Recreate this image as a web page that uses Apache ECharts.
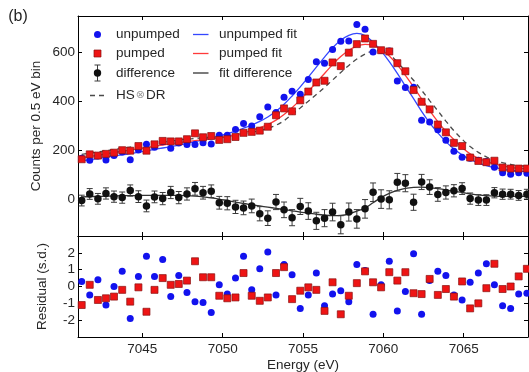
<!DOCTYPE html>
<html>
<head>
<meta charset="utf-8">
<script src="https://cdn.jsdelivr.net/npm/echarts@6/dist/echarts.min.js"></script>
<style>
  html, body { margin: 0; padding: 0; background: #fff; }
  #chart { width: 529px; height: 372px; }
</style>
</head>
<body>
<div id="chart"></div>
<script>
// Photon energy of each 0.5 eV bin (eV)
const energy = [
  7041.23, 7041.73, 7042.24, 7042.74, 7043.24, 7043.75, 7044.25, 7044.76,
  7045.26, 7045.76, 7046.27, 7046.77, 7047.27, 7047.78, 7048.28, 7048.78,
  7049.29, 7049.79, 7050.29, 7050.80, 7051.30, 7051.81, 7052.31, 7052.81,
  7053.32, 7053.82, 7054.32, 7054.83, 7055.33, 7055.83, 7056.34, 7056.84,
  7057.35, 7057.85, 7058.35, 7058.86, 7059.36, 7059.86, 7060.37, 7060.87,
  7061.37, 7061.88, 7062.38, 7062.88, 7063.39, 7063.89, 7064.39, 7064.90,
  7065.40, 7065.91, 7066.41, 7066.91, 7067.42, 7067.92, 7068.42, 7068.93
];

// Counts per bin
const unpumped = [
  168, 160, 177, 161, 179, 194, 162, 202, 225, 213, 236, 209, 230, 224, 224, 231,
  226, 262, 262, 286, 310, 300, 338, 378, 355, 418, 442, 430, 490, 563, 557, 613,
  647, 648, 715, 696, 603, 609, 607, 484, 458, 459, 324, 316, 285, 242, 197, 172,
  168, 160, 155, 131, 109, 103, 109, 107
];
const pumped = [
  164, 184, 179, 186, 191, 201, 199, 218, 199, 225, 239, 237, 237, 246, 270, 254,
  259, 243, 246, 255, 272, 276, 281, 297, 344, 372, 360, 405, 441, 478, 485, 560,
  545, 600, 635, 658, 636, 610, 605, 557, 524, 447, 399, 368, 306, 274, 231, 218,
  171, 157, 152, 158, 130, 126, 126, 126
];
const difference = [
  -5, 22, 2, 24, 11, 7, 36, 11, -27, 10, 3, 28, 7, 22, 43, 27,
  33, -14, -16, -31, -35, -27, -59, -77, -11, -43, -75, -29, -48, -88, -77, -52,
  -104, -52, -80, -39, 29, 1, -2, 70, 66, -12, 71, 50, 20, 28, 35, 44,
  3, -3, -3, 27, 21, 21, 16, 21
];
const differenceErr = [
  22, 22, 22, 23, 23, 23, 23, 24, 24, 24, 25, 25, 25, 25, 26, 26,
  26, 26, 27, 27, 28, 28, 29, 30, 31, 32, 33, 33, 34, 35, 35, 36,
  37, 37, 38, 38, 38, 38, 37, 36, 35, 33, 31, 30, 28, 27, 25, 24,
  23, 22, 22, 21, 21, 20, 20, 20
];

// Model curves evaluated at the bin energies
const unpumpedFit = [
  157, 162, 167, 172, 177, 182, 187, 192, 198, 204, 210, 216, 222, 229, 236, 243,
  251, 260, 269, 279, 291, 304, 319, 337, 360, 389, 423, 460, 500, 541, 582, 620,
  651, 671, 679, 670, 643, 607, 563, 515, 463, 412, 360, 313, 272, 236, 206, 182,
  163, 149, 138, 130, 124, 119, 115, 112
];
const pumpedFit = [
  170, 175, 181, 186, 191, 197, 202, 207, 212, 217, 222, 227, 232, 236, 240, 244,
  248, 252, 257, 263, 272, 282, 293, 306, 324, 347, 375, 407, 442, 478, 515, 551,
  584, 610, 627, 634, 630, 613, 586, 550, 507, 460, 411, 363, 318, 278, 244, 212,
  186, 168, 155, 145, 137, 131, 127, 124
];
const hsDrModel = [
  184, 189, 194, 199, 204, 209, 214, 219, 224, 229, 234, 238, 242, 246, 249, 252,
  255, 258, 261, 265, 269, 274, 281, 290, 303, 322, 348, 374, 401, 429, 458, 488,
  519, 548, 574, 594, 607, 610, 594, 561, 525, 487, 446, 404, 362, 320, 281, 246,
  216, 192, 174, 160, 150, 143, 138, 135
];
const fitDifference = [
  10, 11, 12, 13, 14, 15, 15, 16, 16, 16, 16, 16, 16, 15, 13, 10,
  6, 1, -5, -11, -17, -22, -27, -32, -37, -42, -47, -52, -56, -61, -65, -67,
  -66, -60, -48, -36, -14, 7, 24, 37, 45, 49, 50, 48, 44, 39, 33, 28,
  22, 18, 15, 13, 12, 12, 12, 12
];

// Normalised residuals (standard deviations)
const unpumpedResidual = [
  0.3, -0.5, 0.4, -1.1, 0.0, 0.9, -1.9, 0.6, 1.8, 0.6, 1.6, -0.6, 0.65, -0.35, -0.9, -0.95,
  -1.55, 0.1, -0.45, 0.5, 1.8, -0.2, 1.05, 2.05, -0.5, 1.3, 0.7, -1.3, -0.5, 0.8, -1.15, -0.45,
  -0.25, -0.9, 1.3, 0.95, -1.65, 0.1, 1.5, -1.45, -0.3, 1.95, -1.65, 0.35, 0.9, 0.65, -0.5, -0.8,
  0.25, 0.8, 1.35, 0.1, -1.15, -1.3, -0.45, -0.4
];
const pumpedResidual = [
  -1.1, 0.1, -0.8, -0.7, -0.6, -0.2, -0.9, -0.05, -1.5, -0.2, 0.5, 0.1, 0.15, 0.35, 1.5, 0.55,
  0.55, -0.55, -0.7, -0.65, 0.8, -0.55, -0.85, -0.65, 0.8, 1.15, -0.75, -0.25, -0.05, -0.2, -1.45, 0.25,
  -1.65, -0.55, 0.2, 0.9, 0.25, -0.05, 0.85, 0.35, 0.85, -0.4, -0.45, 0.45, -0.5, -0.15, -0.6, 0.3,
  -1.3, -1.0, -0.1, 1.35, -0.15, 0.0, 0.6, 1.05
];

const energyTicks = [7045, 7050, 7055, 7060, 7065];
const countTicks = [0, 200, 400, 600];
const residualTicks = [-2, -1, 0, 1, 2];

const FONT = '"Liberation Sans", Arial, "DejaVu Sans", sans-serif';
const TEXT = '#262626';
const BLUE = '#1212ee';
const RED = '#ee1414';
const BLUE_LINE = '#3447ff';
const RED_LINE = '#ff3a3a';

const pairs = ys => energy.map((e, i) => [e, ys[i]]);

function frameAxis(kind, grid, position, range, ticks, labelled) {
  const ax = {
    type: 'value',
    gridIndex: grid,
    position: position,
    min: range[0],
    max: range[1],
    axisLine: { show: true, onZero: false, lineStyle: { color: '#000', width: 1 } },
    axisTick: { show: true, inside: true, length: 4, customValues: ticks, lineStyle: { color: '#000', width: 1 } },
    axisLabel: {
      show: !!labelled,
      fontFamily: FONT,
      fontSize: 13.5,
      color: TEXT,
      margin: kind === 'x' ? 5 : 3,
      formatter: v => String(v)
    },
    splitLine: { show: false }
  };
  if (labelled) ax.axisLabel.customValues = ticks;
  return ax;
}

const chart = echarts.init(document.getElementById('chart'), null, { renderer: 'canvas' });

const lineSeries = (name, data, color, dashed) => ({
  name: name,
  type: 'line',
  xAxisIndex: 0,
  yAxisIndex: 0,
  data: pairs(data),
  showSymbol: false,
  smooth: 0.35,
  lineStyle: { color: color, width: 1.3, type: dashed ? [5, 4] : 'solid' },
  z: 2
});

chart.setOption({
  animation: false,
  backgroundColor: '#fff',
  grid: [
    { left: 78, top: 16, width: 450, height: 220 },
    { left: 78, top: 236, width: 450, height: 101 }
  ],
  xAxis: [
    frameAxis('x', 0, 'bottom', [7041, 7069], energyTicks, false),
    frameAxis('x', 0, 'top', [7041, 7069], energyTicks, false),
    frameAxis('x', 1, 'bottom', [7041, 7069], energyTicks, true),
    frameAxis('x', 1, 'top', [7041, 7069], energyTicks, false)
  ],
  yAxis: [
    frameAxis('y', 0, 'left', [-150, 750], countTicks, true),
    frameAxis('y', 0, 'right', [-150, 750], countTicks, false),
    frameAxis('y', 1, 'left', [-3, 3], residualTicks, true),
    frameAxis('y', 1, 'right', [-3, 3], residualTicks, false)
  ],
  series: [
    lineSeries('HS⊗DR', hsDrModel, '#4a4a4a', true),
    lineSeries('unpumped fit', unpumpedFit, BLUE_LINE, false),
    lineSeries('pumped fit', pumpedFit, RED_LINE, false),
    lineSeries('fit difference', fitDifference, '#333333', false),
    {
      name: 'difference error',
      type: 'custom',
      xAxisIndex: 0,
      yAxisIndex: 0,
      data: energy.map((e, i) => [e, difference[i], differenceErr[i]]),
      encode: { x: 0, y: 1 },
      z: 3,
      renderItem: (params, api) => {
        const x = api.value(0), y = api.value(1), err = api.value(2);
        const hi = api.coord([x, y + err]);
        const lo = api.coord([x, y - err]);
        const cap = 3;
        const st = { stroke: '#3a3a3a', lineWidth: 1 };
        return {
          type: 'group',
          children: [
            { type: 'line', shape: { x1: hi[0], y1: hi[1], x2: lo[0], y2: lo[1] }, style: st },
            { type: 'line', shape: { x1: hi[0] - cap, y1: hi[1], x2: hi[0] + cap, y2: hi[1] }, style: st },
            { type: 'line', shape: { x1: lo[0] - cap, y1: lo[1], x2: lo[0] + cap, y2: lo[1] }, style: st }
          ]
        };
      }
    },
    {
      name: 'difference',
      type: 'scatter',
      xAxisIndex: 0, yAxisIndex: 0,
      data: pairs(difference),
      symbol: 'circle', symbolSize: 7.5,
      itemStyle: { color: '#111', opacity: 1 },
      z: 4
    },
    {
      name: 'unpumped',
      type: 'scatter',
      xAxisIndex: 0, yAxisIndex: 0,
      data: pairs(unpumped),
      symbol: 'circle', symbolSize: 7,
      itemStyle: { color: BLUE, opacity: 1 },
      z: 4
    },
    {
      name: 'pumped',
      type: 'scatter',
      xAxisIndex: 0, yAxisIndex: 0,
      data: pairs(pumped),
      symbol: 'rect', symbolSize: 7,
      itemStyle: { color: RED, borderColor: '#8a1010', borderWidth: 0.7, opacity: 1 },
      z: 5
    },
    {
      name: 'unpumped residual',
      type: 'scatter',
      xAxisIndex: 2, yAxisIndex: 2,
      data: pairs(unpumpedResidual),
      symbol: 'circle', symbolSize: 7,
      itemStyle: { color: BLUE, opacity: 1 },
      z: 4
    },
    {
      name: 'pumped residual',
      type: 'scatter',
      xAxisIndex: 2, yAxisIndex: 2,
      data: pairs(pumpedResidual),
      symbol: 'rect', symbolSize: 7,
      itemStyle: { color: RED, borderColor: '#8a1010', borderWidth: 0.7, opacity: 1 },
      z: 5
    }
  ],
  graphic: [
    // panel tag
    { type: 'text', x: 18, y: 17, style: { text: '(b)', font: '16px ' + FONT, fill: TEXT, align: 'center', verticalAlign: 'middle' } },
    // axis titles
    { type: 'text', x: 36, y: 126, rotation: Math.PI / 2,
      style: { text: 'Counts per 0.5 eV bin', font: '13.5px ' + FONT, fill: TEXT, align: 'center', verticalAlign: 'middle' } },
    { type: 'text', x: 42, y: 286.5, rotation: Math.PI / 2,
      style: { text: 'Residual (s.d.)', font: '13.5px ' + FONT, fill: TEXT, align: 'center', verticalAlign: 'middle' } },
    { type: 'text', x: 303, y: 365,
      style: { text: 'Energy (eV)', font: '13.5px ' + FONT, fill: TEXT, align: 'center', verticalAlign: 'middle' } },

    // legend, first column
    { type: 'circle', shape: { cx: 97.5, cy: 34.5, r: 3.5 }, style: { fill: BLUE } },
    { type: 'text', x: 116, y: 34.5, style: { text: 'unpumped', font: '13.5px ' + FONT, fill: TEXT, verticalAlign: 'middle' } },
    { type: 'rect', shape: { x: 94, y: 50, width: 7, height: 7 }, style: { fill: RED, stroke: '#8a1010', lineWidth: 0.7 } },
    { type: 'text', x: 116, y: 53.5, style: { text: 'pumped', font: '13.5px ' + FONT, fill: TEXT, verticalAlign: 'middle' } },
    { type: 'line', shape: { x1: 97.5, y1: 65, x2: 97.5, y2: 81 }, style: { stroke: '#3a3a3a', lineWidth: 1 } },
    { type: 'line', shape: { x1: 94.5, y1: 65, x2: 100.5, y2: 65 }, style: { stroke: '#3a3a3a', lineWidth: 1 } },
    { type: 'line', shape: { x1: 94.5, y1: 81, x2: 100.5, y2: 81 }, style: { stroke: '#3a3a3a', lineWidth: 1 } },
    { type: 'circle', shape: { cx: 97.5, cy: 73, r: 3.7 }, style: { fill: '#111' } },
    { type: 'text', x: 116, y: 73, style: { text: 'difference', font: '13.5px ' + FONT, fill: TEXT, verticalAlign: 'middle' } },
    { type: 'line', shape: { x1: 90, y1: 95.5, x2: 106, y2: 95.5 }, style: { stroke: '#4a4a4a', lineWidth: 1.3, lineDash: [5, 4] } },
    { type: 'text', x: 116, y: 95.5,
      style: {
        text: '{a|HS}{b|⊗}{a|DR}',
        verticalAlign: 'middle',
        rich: {
          a: { fontFamily: FONT, fontSize: 13.5, fill: TEXT },
          b: { fontFamily: '"DejaVu Sans", sans-serif', fontSize: 11, fill: '#9a9a9a', padding: [0, 1, 0, 1] }
        }
      } },

    // legend, second column
    { type: 'line', shape: { x1: 193, y1: 34.5, x2: 208.5, y2: 34.5 }, style: { stroke: BLUE_LINE, lineWidth: 1.3 } },
    { type: 'text', x: 219, y: 34.5, style: { text: 'unpumped fit', font: '13.5px ' + FONT, fill: TEXT, verticalAlign: 'middle' } },
    { type: 'line', shape: { x1: 193, y1: 53.5, x2: 208.5, y2: 53.5 }, style: { stroke: RED_LINE, lineWidth: 1.3 } },
    { type: 'text', x: 219, y: 53.5, style: { text: 'pumped fit', font: '13.5px ' + FONT, fill: TEXT, verticalAlign: 'middle' } },
    { type: 'line', shape: { x1: 193, y1: 73, x2: 208.5, y2: 73 }, style: { stroke: '#333333', lineWidth: 1.3 } },
    { type: 'text', x: 219, y: 73, style: { text: 'fit difference', font: '13.5px ' + FONT, fill: TEXT, verticalAlign: 'middle' } }
  ]
});
</script>
</body>
</html>
